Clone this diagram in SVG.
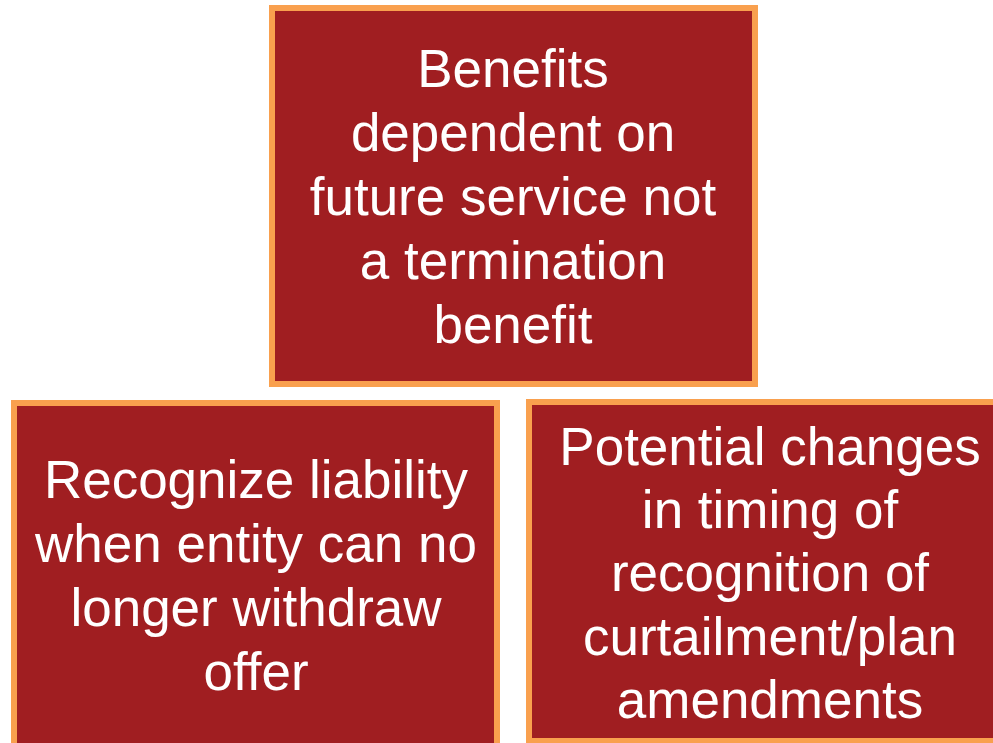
<svg xmlns="http://www.w3.org/2000/svg" width="993" height="743" viewBox="0 0 993 743">
<style>
.box{fill:#A01E21;stroke:#F9A04E;stroke-width:6}
.t{fill:#FFFFFF;font-family:"Liberation Sans",Arial,sans-serif;font-size:53px;text-anchor:middle}
</style>
<rect width="993" height="743" fill="#FFFFFF"/>
<g id="top">
<rect class="box" x="272" y="8" width="483" height="376"/>
<text class="t"><tspan x="513" y="87">Benefits</tspan><tspan x="513" y="151">dependent on</tspan><tspan x="513" y="215">future service not</tspan><tspan x="513" y="279">a termination</tspan><tspan x="513" y="343">benefit</tspan></text>
</g>
<g id="left">
<rect class="box" x="14" y="403" width="483" height="376"/>
<text class="t"><tspan x="256" y="498">Recognize liability</tspan><tspan x="256" y="562">when entity can no</tspan><tspan x="256" y="626">longer withdraw</tspan><tspan x="256" y="690">offer</tspan></text>
</g>
<g id="right">
<rect class="box" x="529" y="402" width="483" height="339"/>
<text class="t"><tspan x="770" y="465">Potential changes</tspan><tspan x="770" y="528">in timing of</tspan><tspan x="770" y="591">recognition of</tspan><tspan x="770" y="655">curtailment/plan</tspan><tspan x="770" y="718">amendments</tspan></text>
</g>
<g id="connectors"></g>
</svg>
